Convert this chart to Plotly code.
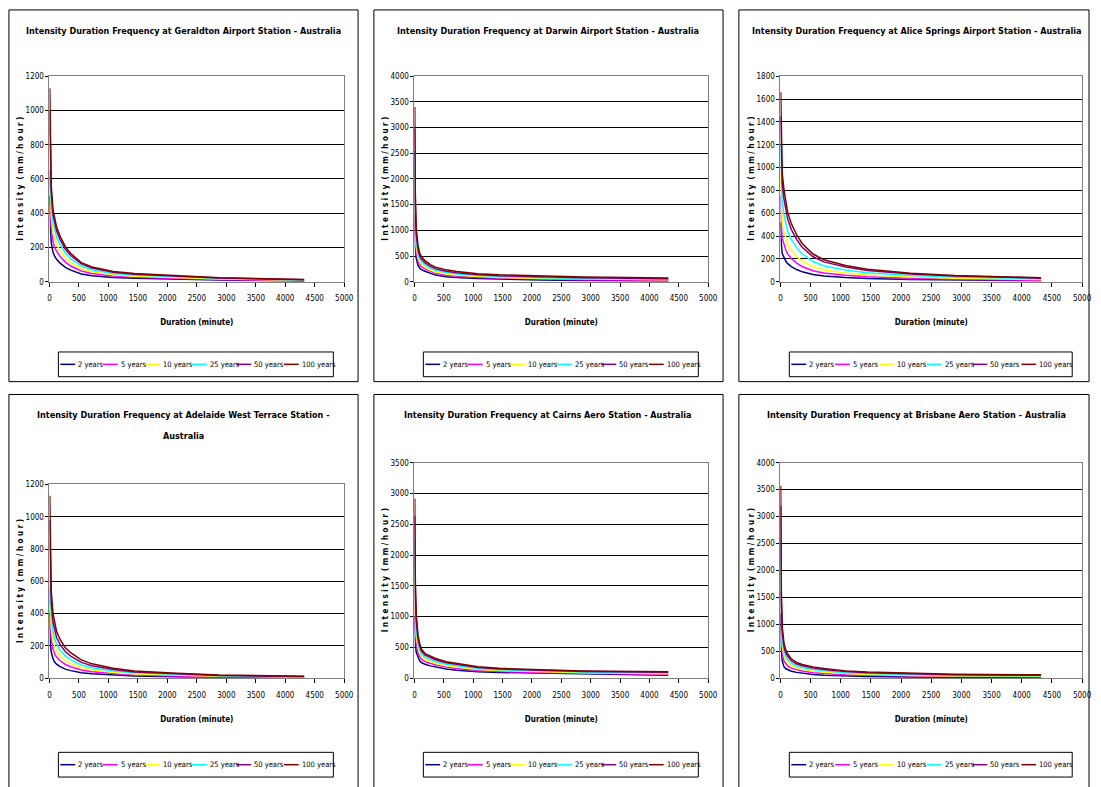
import plotly.graph_objects as go

W, H = 1101, 787
FONT = "Liberation Sans Narrow, DejaVu Sans Condensed, Arial Narrow, sans-serif"

# ---------------- data ----------------
durations = [5, 10, 15, 30, 60, 90, 120, 180, 270, 360, 540, 720, 1080, 1440, 2160, 2880, 4320]
return_periods = ["2 years", "5 years", "10 years", "25 years", "50 years", "100 years"]
series_colors = ["#000080", "#FF00FF", "#FFFF00", "#00FFFF", "#800080", "#800000"]
x_ticks = [0, 500, 1000, 1500, 2000, 2500, 3000, 3500, 4000, 4500, 5000]

geraldton = [
    [500, 380, 320, 230, 172, 148, 131, 109, 84, 68, 46, 35, 25, 20, 14, 10, 5],
    [650, 510, 430, 315, 235, 200, 179, 148, 115, 92, 63, 48, 34, 27, 20, 13, 7],
    [780, 620, 520, 385, 285, 245, 218, 180, 139, 112, 76, 58, 41, 33, 24, 16, 9],
    [900, 730, 620, 460, 345, 295, 262, 217, 168, 135, 92, 70, 49, 39, 29, 20, 11],
    [1000, 820, 700, 520, 390, 335, 298, 246, 190, 153, 104, 80, 56, 44, 32, 22, 12],
    [1130, 900, 760, 560, 420, 360, 320, 265, 205, 165, 112, 86, 60, 48, 35, 24, 13],
]
darwin = [
    [1300, 880, 680, 460, 320, 265, 235, 205, 160, 130, 100, 82, 62, 50, 36, 27, 17],
    [1760, 1192, 904, 590, 404, 330, 291, 250, 199, 164, 129, 108, 83, 69, 52, 41, 29],
    [2140, 1448, 1088, 696, 472, 383, 337, 287, 230, 192, 153, 129, 100, 84, 65, 53, 39],
    [2560, 1732, 1292, 814, 548, 442, 388, 328, 265, 223, 179, 153, 120, 101, 79, 66, 50],
    [2980, 2016, 1496, 932, 624, 501, 439, 369, 300, 254, 206, 176, 139, 118, 94, 79, 61],
    [3400, 2300, 1700, 1050, 700, 560, 490, 410, 335, 285, 232, 200, 158, 135, 108, 92, 72],
]
alice_springs = [
    [520, 400, 330, 247, 208, 179, 159, 133, 107, 87, 63, 50, 37, 29, 20, 15, 9],
    [750, 600, 500, 380, 320, 276, 244, 204, 164, 134, 97, 77, 57, 44, 30, 22, 14],
    [950, 780, 660, 513, 432, 373, 329, 275, 221, 181, 131, 104, 77, 59, 41, 30, 19],
    [1200, 1010, 870, 694, 584, 504, 445, 372, 299, 245, 177, 141, 104, 80, 55, 41, 26],
    [1450, 1240, 1070, 855, 720, 621, 549, 459, 369, 302, 219, 174, 129, 99, 68, 50, 32],
    [1660, 1400, 1200, 950, 800, 690, 610, 510, 410, 335, 243, 193, 143, 110, 75, 56, 35],
]
adelaide = [
    [400, 267, 222, 162, 120, 99, 87, 72, 56, 47, 34, 27, 19, 14, 9, 6, 4],
    [560, 400, 333, 243, 180, 149, 131, 108, 85, 71, 51, 40, 28, 20, 14, 9, 5],
    [690, 516, 429, 313, 232, 191, 168, 139, 109, 92, 66, 52, 36, 26, 17, 12, 7],
    [850, 650, 540, 394, 292, 241, 212, 175, 137, 115, 82, 65, 45, 33, 22, 15, 9],
    [980, 775, 644, 470, 348, 287, 252, 209, 164, 137, 98, 77, 54, 39, 26, 17, 10],
    [1130, 890, 740, 540, 400, 330, 290, 240, 188, 158, 113, 89, 62, 45, 30, 20, 12],
]
cairns = [
    [1000, 720, 580, 420, 330, 280, 255, 225, 200, 180, 150, 130, 105, 93, 80, 68, 47],
    [1480, 1052, 830, 575, 422, 350, 309, 269, 240, 215, 180, 157, 125, 110, 94, 80, 61],
    [1864, 1318, 1030, 699, 496, 406, 352, 304, 272, 243, 203, 179, 141, 123, 105, 90, 73],
    [2248, 1584, 1230, 823, 570, 462, 395, 339, 304, 271, 227, 200, 158, 136, 116, 100, 84],
    [2632, 1850, 1430, 947, 644, 518, 438, 374, 336, 299, 250, 222, 174, 150, 127, 110, 95],
    [2920, 2050, 1580, 1040, 700, 560, 470, 400, 360, 320, 268, 238, 186, 160, 135, 118, 104],
]
brisbane = [
    [1200, 780, 540, 320, 210, 175, 155, 130, 108, 92, 68, 57, 43, 33, 22, 16, 12],
    [1600, 1172, 805, 477, 317, 261, 229, 187, 153, 133, 103, 88, 66, 53, 38, 30, 24],
    [2000, 1486, 1017, 603, 403, 330, 288, 233, 190, 165, 132, 112, 85, 69, 52, 41, 34],
    [2600, 1800, 1229, 730, 490, 399, 347, 279, 226, 198, 160, 137, 103, 85, 65, 52, 44],
    [3200, 2114, 1441, 855, 575, 468, 406, 325, 263, 231, 189, 162, 122, 101, 78, 64, 54],
    [3570, 2350, 1600, 950, 640, 520, 450, 360, 290, 255, 210, 180, 136, 113, 88, 72, 62],
]

stations = [geraldton, darwin, alice_springs, adelaide, cairns, brisbane]
# each title is given as its displayed lines
titles = [
    ["Intensity Duration Frequency at Geraldton Airport Station - Australia"],
    ["Intensity Duration Frequency at Darwin Airport Station - Australia"],
    ["Intensity Duration Frequency at Alice Springs Airport Station - Australia"],
    ["Intensity Duration Frequency at Adelaide West Terrace Station -", "Australia"],
    ["Intensity Duration Frequency at Cairns Aero Station - Australia"],
    ["Intensity Duration Frequency at Brisbane Aero Station - Australia"],
]
y_max = [1200, 4000, 1800, 1200, 3500, 4000]
y_step = [200, 500, 200, 200, 500, 500]
x_title = "Duration (minute)"
y_title = "I n t e n s i t y  ( m m / h o u r )"

# ---------------- layout geometry (pixels) ----------------
panels = [
    dict(box=(7, 6, 360, 382), plot=(48, 73, 346, 281), title=(183, 27), legend=(57, 352, 335, 377)),
    dict(box=(376, 6, 729, 382), plot=(417, 73, 714, 281), title=(552, 27), legend=(426, 352, 704, 377)),
    dict(box=(745, 6, 1099, 382), plot=(787, 73, 1092, 281), title=(925, 27), legend=(796, 352, 1082, 377)),
    dict(box=(7, 395, 360, 800), plot=(48, 486, 346, 682), title=(184, 416), legend=(57, 757, 335, 782)),
    dict(box=(376, 395, 729, 800), plot=(417, 464, 714, 682), title=(552, 416), legend=(426, 757, 704, 782)),
    dict(box=(745, 395, 1099, 800), plot=(787, 464, 1092, 682), title=(925, 416), legend=(796, 757, 1082, 782)),
]
title_line_gap = 21
legend_line_offsets = [2, 45, 88, 135, 180, 228]  # within a 278 px wide legend


def px(x):
    return x / W


def py(y):
    return 1 - y / H


fig = go.Figure()
shapes = []
annotations = []
layout = {}

for i, (data, p) in enumerate(zip(stations, panels)):
    k = "" if i == 0 else str(i + 1)
    for j, name in enumerate(return_periods):
        fig.add_trace(go.Scatter(
            x=durations, y=data[j], mode="lines", name=name,
            line=dict(color=series_colors[j], width=1.5),
            xaxis="x" + k, yaxis="y" + k, showlegend=False,
        ))
    x0, y0, x1, y1 = p["plot"]
    layout["xaxis" + k] = dict(
        domain=[px(x0), px(x1)], anchor="y" + k, range=[0, 5000],
        tickvals=x_ticks, ticks="outside", ticklen=4, tickcolor="#000000",
        showline=True, linecolor="#808080", mirror=True, showgrid=False, zeroline=False,
        tickfont=dict(family=FONT, size=8, color="#000000"), ticklabelstandoff=5,
        title=dict(text="<b>" + x_title + "</b>", standoff=17,
                   font=dict(family=FONT, size=8, color="#000000")),
    )
    layout["yaxis" + k] = dict(
        domain=[py(y1), py(y0)], anchor="x" + k, range=[0, y_max[i]],
        dtick=y_step[i], tick0=0, ticks="outside", ticklen=3, tickcolor="#000000",
        showline=True, linecolor="#808080", mirror=True, showgrid=True,
        gridcolor="#000000", gridwidth=1, zeroline=False,
        tickfont=dict(family=FONT, size=8, color="#000000"),
    )
    # y-axis title, placed close to the tick label column as in the original
    annotations.append(dict(text="<b>" + y_title + "</b>", xref="paper", yref="paper",
                            x=px(x0 - 29), y=py((y0 + y1) / 2), textangle=-90,
                            xanchor="center", yanchor="middle", showarrow=False,
                            font=dict(family=FONT, size=8, color="#000000")))
    # panel border
    bx0, by0, bx1, by1 = p["box"]
    shapes.append(dict(type="rect", xref="paper", yref="paper",
                       x0=px(bx0), x1=px(bx1), y0=py(by1), y1=py(by0),
                       line=dict(color="#000000", width=1)))
    # title lines
    tx, ty = p["title"]
    for n, line in enumerate(titles[i]):
        annotations.append(dict(text="<b>" + line + "</b>", xref="paper", yref="paper",
                                x=px(tx), y=py(ty + n * title_line_gap),
                                xanchor="center", yanchor="middle",
                                showarrow=False, align="center",
                                font=dict(family=FONT, size=9, color="#000000")))
    # legend box
    lx0, ly0, lx1, ly1 = p["legend"]
    shapes.append(dict(type="rect", xref="paper", yref="paper",
                       x0=px(lx0), x1=px(lx1), y0=py(ly1), y1=py(ly0),
                       line=dict(color="#000000", width=1)))
    scale = (lx1 - lx0) / 278.0
    ly = (ly0 + ly1) / 2
    for j, name in enumerate(return_periods):
        sx = lx0 + legend_line_offsets[j] * scale
        shapes.append(dict(type="line", xref="paper", yref="paper",
                           x0=px(sx), x1=px(sx + 15), y0=py(ly), y1=py(ly),
                           line=dict(color=series_colors[j], width=1.5)))
        annotations.append(dict(text=name, xref="paper", yref="paper",
                                x=px(sx + 16), y=py(ly), xanchor="left", yanchor="middle",
                                showarrow=False,
                                font=dict(family=FONT, size=7.5, color="#000000")))

fig.update_layout(
    width=W, height=H, margin=dict(l=0, r=0, t=0, b=0),
    paper_bgcolor="#FFFFFF", plot_bgcolor="#FFFFFF",
    showlegend=False, shapes=shapes, annotations=annotations,
    font=dict(family=FONT, color="#000000"),
    **layout,
)

fig.write_html("out.html")
